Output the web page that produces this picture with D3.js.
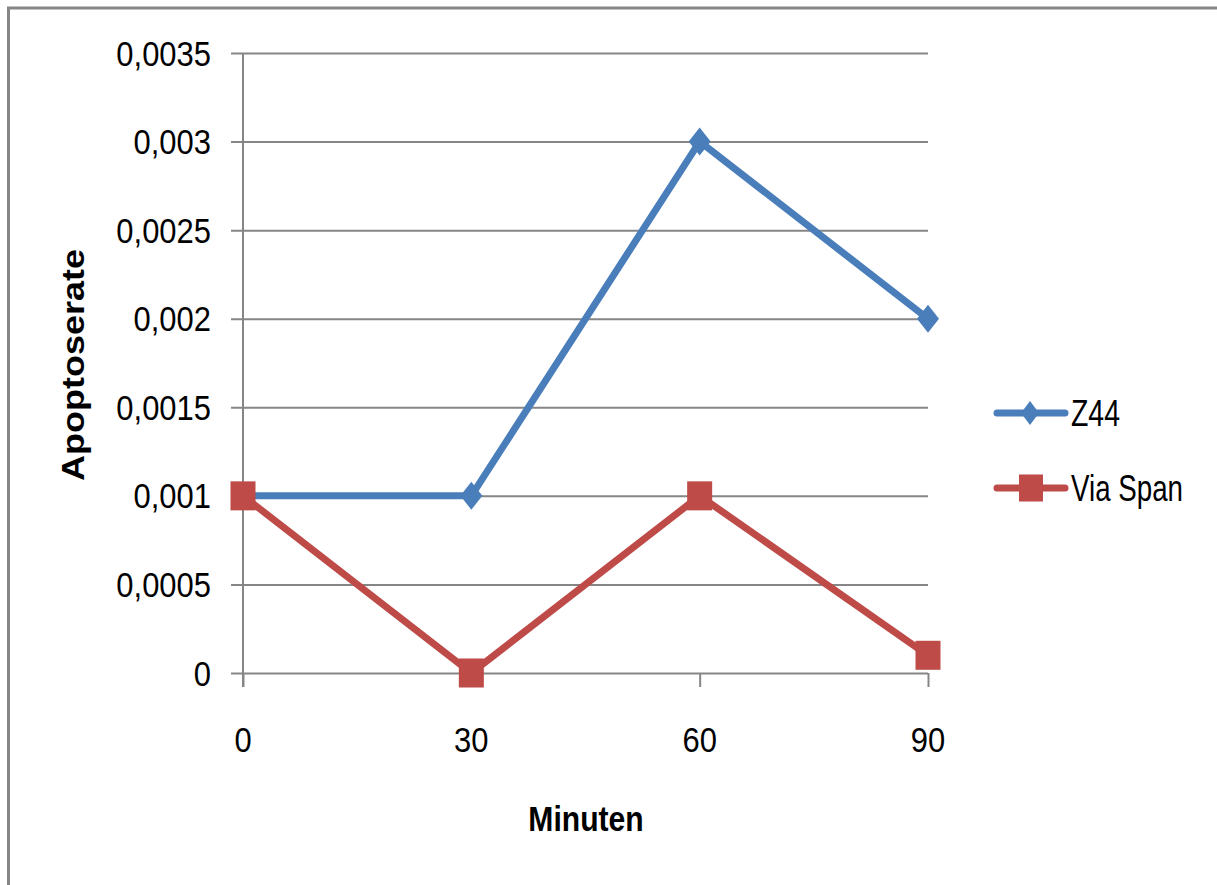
<!DOCTYPE html>
<html>
<head>
<meta charset="utf-8">
<script src="https://cdn.jsdelivr.net/npm/d3@7"></script>
<style>
html,body{margin:0;padding:0;background:#fff;}
svg{display:block;}
text{font-family:"Liberation Sans",Arial,sans-serif;fill:#000;}
</style>
</head>
<body>
<svg id="chart" width="1217" height="885"></svg>
<script>
const minutes = [0, 30, 60, 90];
const z44 = [0.001, 0.001, 0.003, 0.002];
const viaSpan = [0.001, 0.0, 0.001, 0.0001];
const yTicks = [0, 0.0005, 0.001, 0.0015, 0.002, 0.0025, 0.003, 0.0035];
const yTickLabels = ["0", "0,0005", "0,001", "0,0015", "0,002", "0,0025", "0,003", "0,0035"];
const xTickLabels = ["0", "30", "60", "90"];
const seriesNames = ["Z44", "Via Span"];
const xTitle = "Minuten";
const yTitle = "Apoptoserate";

const colors = ["#4a7ebb", "#be4b48"];
const gridColor = "#868686";
const SX = 0.86;

const svg = d3.select("#chart");

// outer border (only top/left visible in the crop)
svg.append("rect").attr("x", 8.5).attr("y", 8).attr("width", 1300).attr("height", 1000)
  .attr("fill", "none").attr("stroke", gridColor).attr("stroke-width", 3);

const x = d3.scaleLinear().domain([0, 90]).range([243, 928]);
const y = d3.scaleLinear().domain([0, 0.0035]).range([673, 53]);

// gridlines via axis
const grid = svg.append("g").attr("transform", `translate(${x(90)},0)`)
  .call(d3.axisLeft(y).tickValues(yTicks).tickSize(x(90) - x(0) + 12).tickFormat(""));
grid.select(".domain").remove();
grid.selectAll(".tick line").attr("stroke", gridColor).attr("stroke-width", 2);

// y axis line
svg.append("line").attr("x1", x(0)).attr("x2", x(0)).attr("y1", y(0.0035)).attr("y2", y(0) + 14)
  .attr("stroke", gridColor).attr("stroke-width", 2);

// x tick marks
const xAxis = svg.append("g").attr("transform", `translate(0,${y(0)})`)
  .call(d3.axisBottom(x).tickValues(minutes).tickSize(14).tickFormat(""));
xAxis.select(".domain").remove();
xAxis.selectAll(".tick line").attr("stroke", gridColor).attr("stroke-width", 2);

// y tick labels
yTicks.forEach((v, i) => {
  svg.append("text")
    .attr("transform", `translate(211,${y(v) + 12.5}) scale(${SX},1)`)
    .attr("text-anchor", "end").attr("font-size", 36)
    .text(yTickLabels[i]);
});

// x tick labels
minutes.forEach((v, i) => {
  svg.append("text")
    .attr("transform", `translate(${x(v)},752) scale(${SX},1)`)
    .attr("text-anchor", "middle").attr("font-size", 36)
    .text(xTickLabels[i]);
});

// axis titles
svg.append("text")
  .attr("transform", `translate(586,831) scale(${SX},1)`)
  .attr("text-anchor", "middle").attr("font-size", 35).attr("font-weight", "bold")
  .text(xTitle);
svg.append("text")
  .attr("transform", `translate(84,365) scale(${SX},1) rotate(-90)`)
  .attr("text-anchor", "middle").attr("font-size", 36).attr("font-weight", "bold")
  .text(yTitle);

// lines
const line = d3.line().x((d, i) => x(minutes[i])).y(d => y(d));
[z44, viaSpan].forEach((s, k) => {
  svg.append("path").datum(s).attr("d", line).attr("fill", "none")
    .attr("stroke", colors[k]).attr("stroke-width", 7).attr("stroke-linejoin", "round");
});

function diamond(g, cx, cy, hw, hh, c) {
  g.append("path").attr("d", `M${cx},${cy - hh}L${cx + hw},${cy}L${cx},${cy + hh}L${cx - hw},${cy}Z`).attr("fill", c);
}
function square(g, cx, cy, w, h, c) {
  g.append("rect").attr("x", cx - w / 2).attr("y", cy - h / 2).attr("width", w).attr("height", h).attr("fill", c);
}

// markers
z44.forEach((v, i) => diamond(svg, x(minutes[i]), y(v), 11, 14, colors[0]));
viaSpan.forEach((v, i) => square(svg, x(minutes[i]), y(v), 25, 29, colors[1]));

// legend
const legY = [413, 488];
const legW = [49, 112];
seriesNames.forEach((name, k) => {
  svg.append("line").attr("x1", 997).attr("x2", 1065).attr("y1", legY[k]).attr("y2", legY[k])
    .attr("stroke", colors[k]).attr("stroke-width", 7).attr("stroke-linecap", "round");
  if (k === 0) diamond(svg, 1030, legY[k], 9, 12, colors[k]);
  else square(svg, 1031, legY[k], 24, 27, colors[k]);
  svg.append("text").attr("x", 1071).attr("y", legY[k] + 13).attr("font-size", 36)
    .attr("textLength", legW[k]).attr("lengthAdjust", "spacingAndGlyphs")
    .text(name);
});
</script>
</body>
</html>
